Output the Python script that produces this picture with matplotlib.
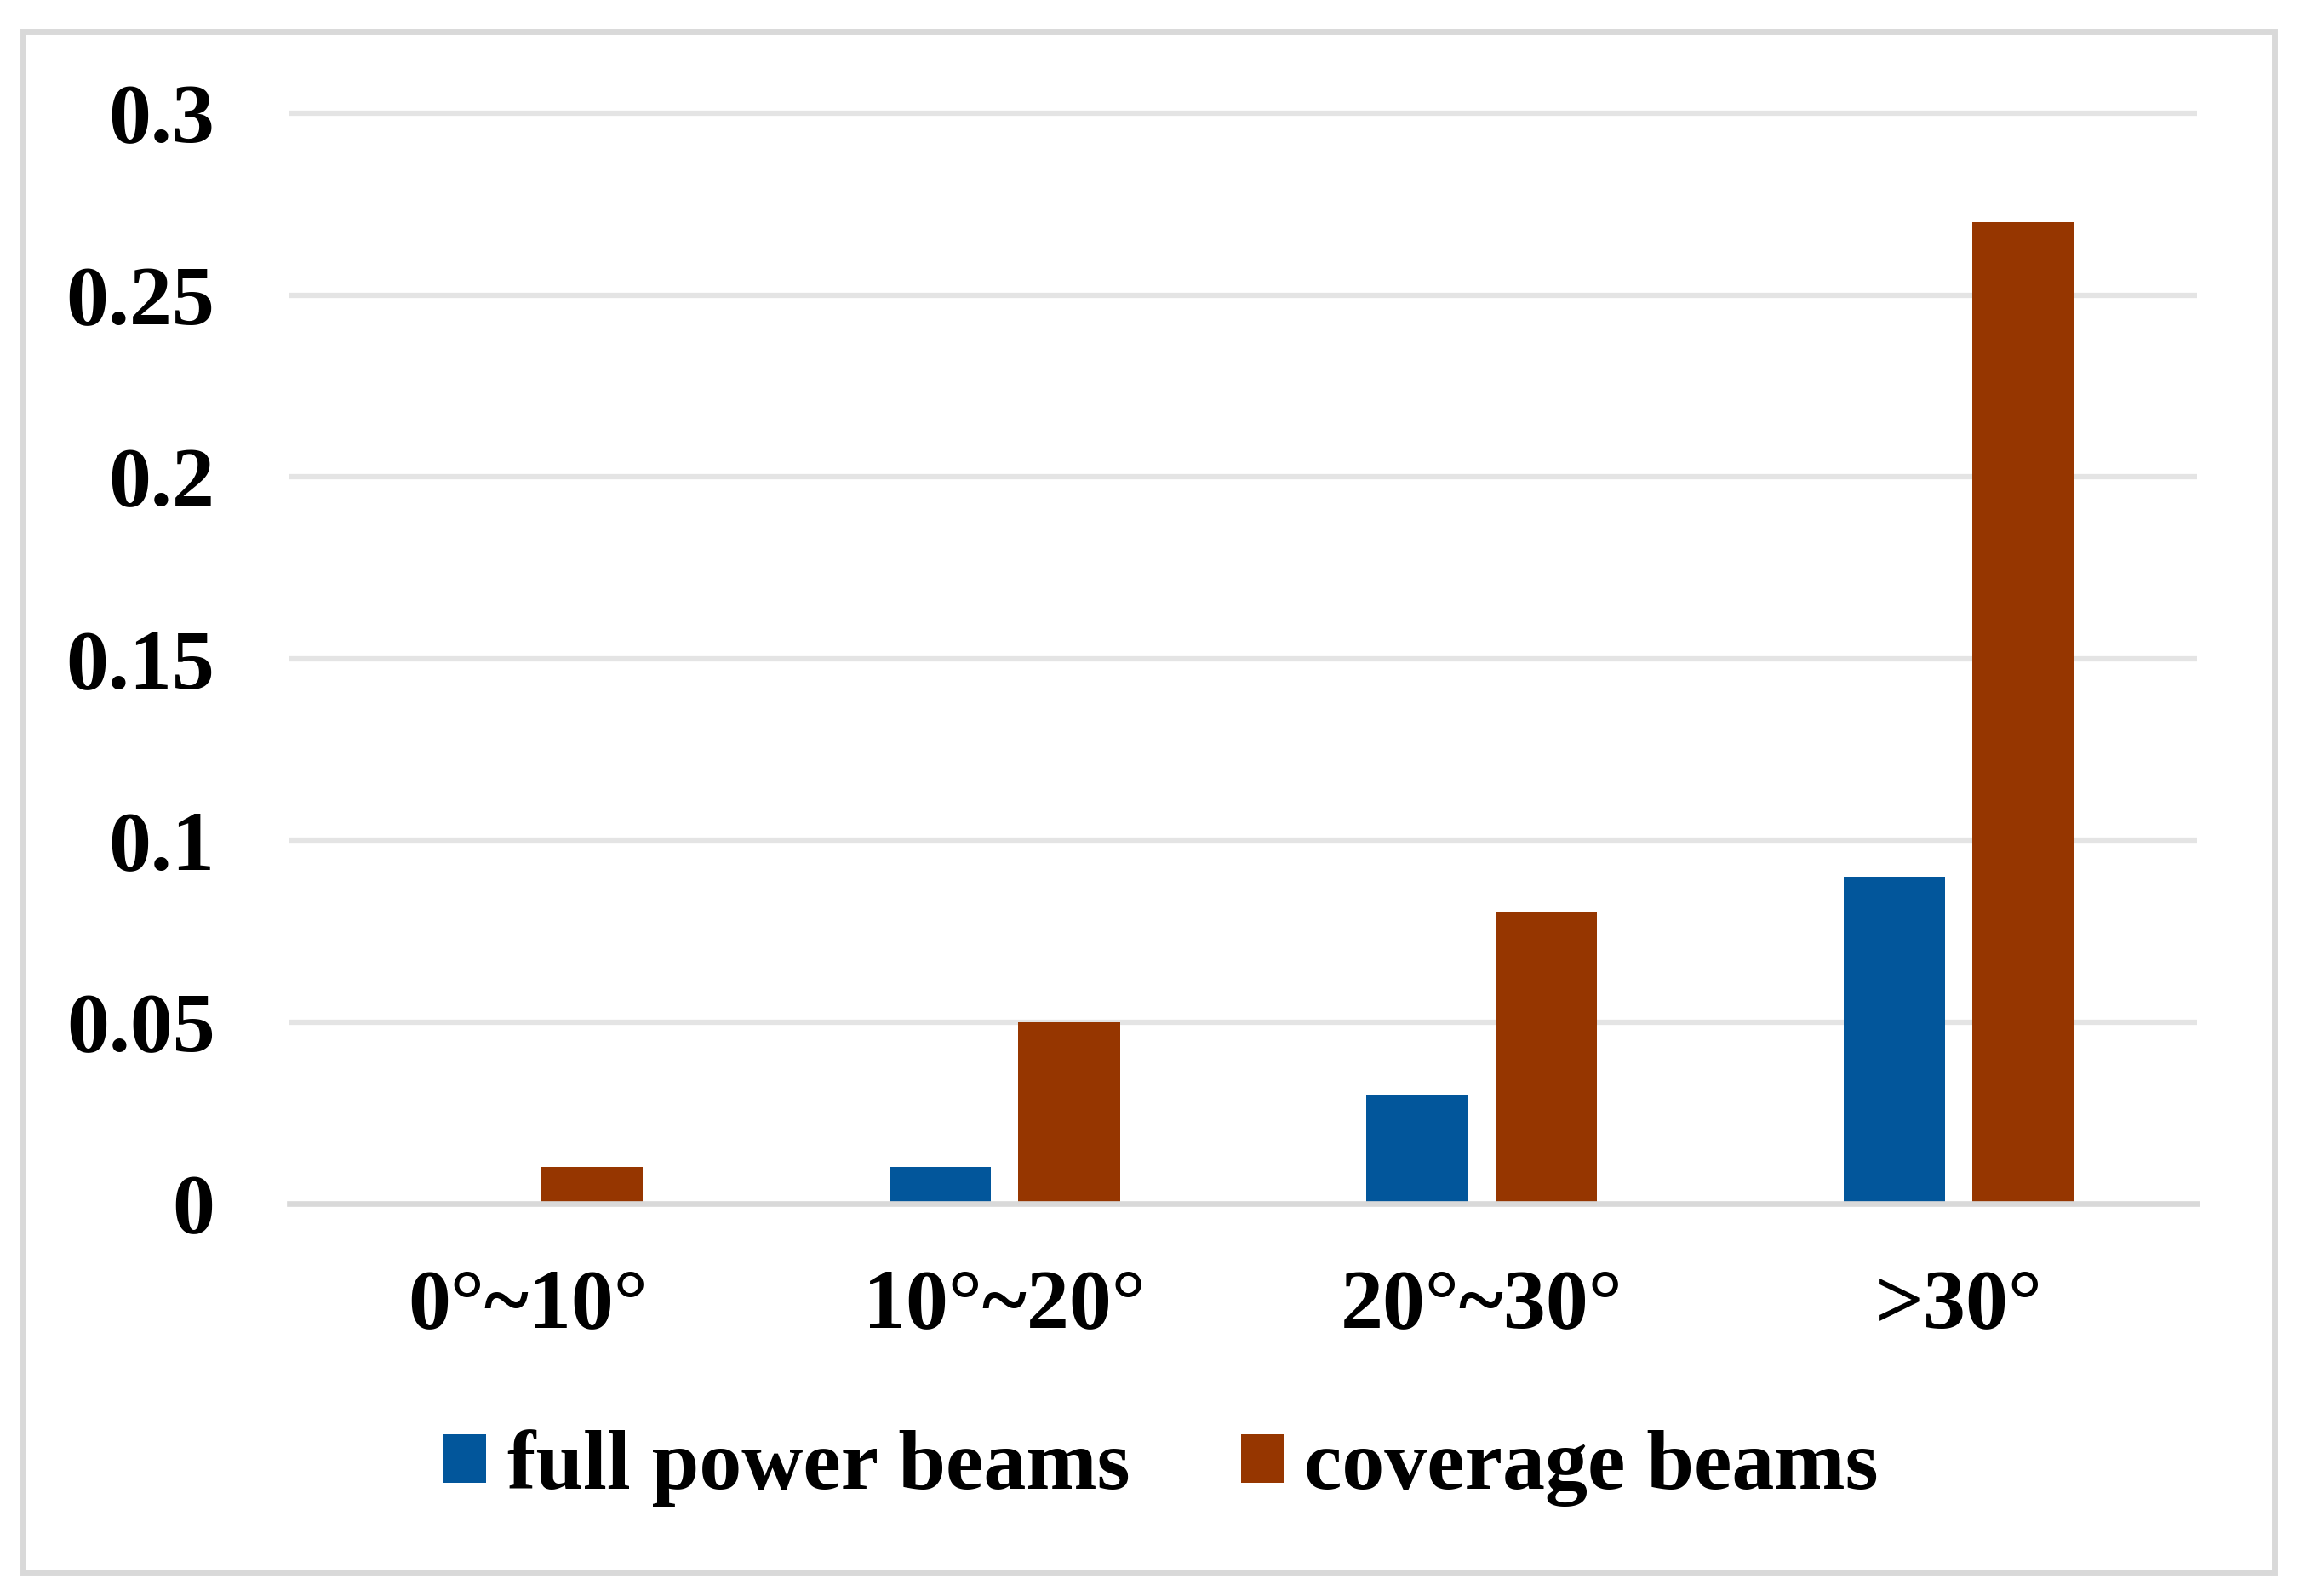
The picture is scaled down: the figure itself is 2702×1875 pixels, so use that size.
import numpy as np
import matplotlib
matplotlib.use("Agg")
from matplotlib import pyplot as plt
from matplotlib.patches import Rectangle

# data
categories = ["0°~10°", "10°~20°", "20°~30°", ">30°"]
full_power = [0.0, 0.01, 0.03, 0.09]
coverage = [0.01, 0.05, 0.08, 0.27]
series_names = ["full power beams", "coverage beams"]
yticks = [0, 0.05, 0.1, 0.15, 0.2, 0.25, 0.3]
ytick_labels = ["0", "0.05", "0.1", "0.15", "0.2", "0.25", "0.3"]

BLUE = "#02569B"
ORANGE = "#963600"
GRID = "#E4E4E4"
AXIS = "#D9D9D9"

W, H = 2702, 1875
plt.rcParams["font.family"] = ["Liberation Serif", "DejaVu Serif"]
plt.rcParams["font.weight"] = "bold"

fig = plt.figure(figsize=(W / 100, H / 100), dpi=100)

# plot area in pixels
left, right = 340, 2581
y0, y03 = 1414, 133
ymax = 0.305
ppu = (y0 - y03) / 0.3
top = y0 - ymax * ppu
ax = fig.add_axes([left / W, 1 - y0 / H, (right - left) / W, (y0 - top) / H])

x = np.arange(len(categories))
bw = 0.2125
off = 0.135
ax.bar(x - off, full_power, bw, color=BLUE, label=series_names[0], zorder=3)
ax.bar(x + off, coverage, bw, color=ORANGE, label=series_names[1], zorder=3)

ax.set_xlim(-0.5, len(categories) - 0.5)
ax.set_ylim(0, ymax)
ax.set_yticks(yticks)
ax.set_yticklabels(ytick_labels)
ax.set_xticks(x)
ax.set_xticklabels(categories)

for t in yticks[1:]:
    ax.axhline(t, color=GRID, lw=4.5, zorder=1)

for s in ["top", "right", "left"]:
    ax.spines[s].set_visible(False)
ax.spines["bottom"].set_color(AXIS)
ax.spines["bottom"].set_linewidth(4.8)
ax.spines["bottom"].set_zorder(4)

ax.tick_params(axis="y", length=0, pad=63, labelsize=72)
ax.tick_params(axis="x", length=0, pad=55, labelsize=72)
for lab in ax.get_xticklabels() + ax.get_yticklabels():
    lab.set_fontweight("bold")

leg = fig.legend(loc="center", bbox_to_anchor=(1364 / W, 1 - 1725 / H),
                 ncol=2, frameon=False, fontsize=72,
                 handlelength=0.5, handleheight=0.5, handletextpad=0.25,
                 columnspacing=1.3, prop={"weight": "bold", "size": 72})

# outer border
fig.patches.append(Rectangle((26.5 / W, 1 - 1846.5 / H), (2672 - 26.5) / W,
                             (1846.5 - 36.5) / H, transform=fig.transFigure,
                             fill=False, edgecolor=AXIS, lw=5))

fig.savefig("out.png", dpi=100, facecolor="white")
